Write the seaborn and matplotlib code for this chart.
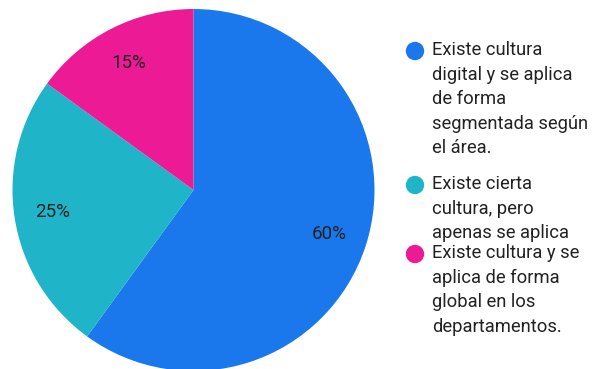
import matplotlib
matplotlib.use("Agg")
import matplotlib.pyplot as plt
import seaborn as sns

# Survey answers and their shares (percent)
categories = [
    "Existe cultura\ndigital y se aplica\nde forma\nsegmentada según\nel área.",
    "Existe cierta\ncultura, pero\napenas se aplica",
    "Existe cultura y se\naplica de forma\nglobal en los\ndepartamentos.",
]
shares = [60, 25, 15]
colors = ["#1A78EC", "#20B4C8", "#EC1A94"]

sns.set_style("white")
plt.rcParams["font.family"] = ["Roboto", "DejaVu Sans"]

W, H = 595, 369
fig = plt.figure(figsize=(W / 100, H / 100), dpi=100)
fig.patch.set_facecolor("white")

# Pie axes: centre (193.5, 190) px, radius 181 px
cx, cy, r = 193.5, 190, 181
ax = fig.add_axes([(cx - r) / W, (H - cy - r) / H, 2 * r / W, 2 * r / H])
wedges, texts, autotexts = ax.pie(
    shares,
    colors=sns.color_palette(colors),
    startangle=90,
    counterclock=False,
    autopct=lambda p: f"{p:.0f}%",
    pctdistance=0.79,
    radius=1,
    wedgeprops=dict(linewidth=0),
    textprops=dict(fontsize=13.5, color="#222222"),
)
ax.set_xlim(-1, 1)
ax.set_ylim(-1, 1)
ax.set_aspect("equal")
ax.axis("off")

# Legend drawn in pixel coordinates
lg = fig.add_axes([0, 0, 1, 1])
lg.set_xlim(0, W)
lg.set_ylim(H, 0)
lg.axis("off")
first_line_y = [51, 185, 254]
for label, col, y in zip(categories, colors, first_line_y):
    lg.scatter([415], [y], s=175, color=col, edgecolors="none")
    lg.text(432, y - 10, label, fontsize=13.2, color="#222222",
            va="top", ha="left", linespacing=1.47)

fig.savefig("out.png", dpi=100)
